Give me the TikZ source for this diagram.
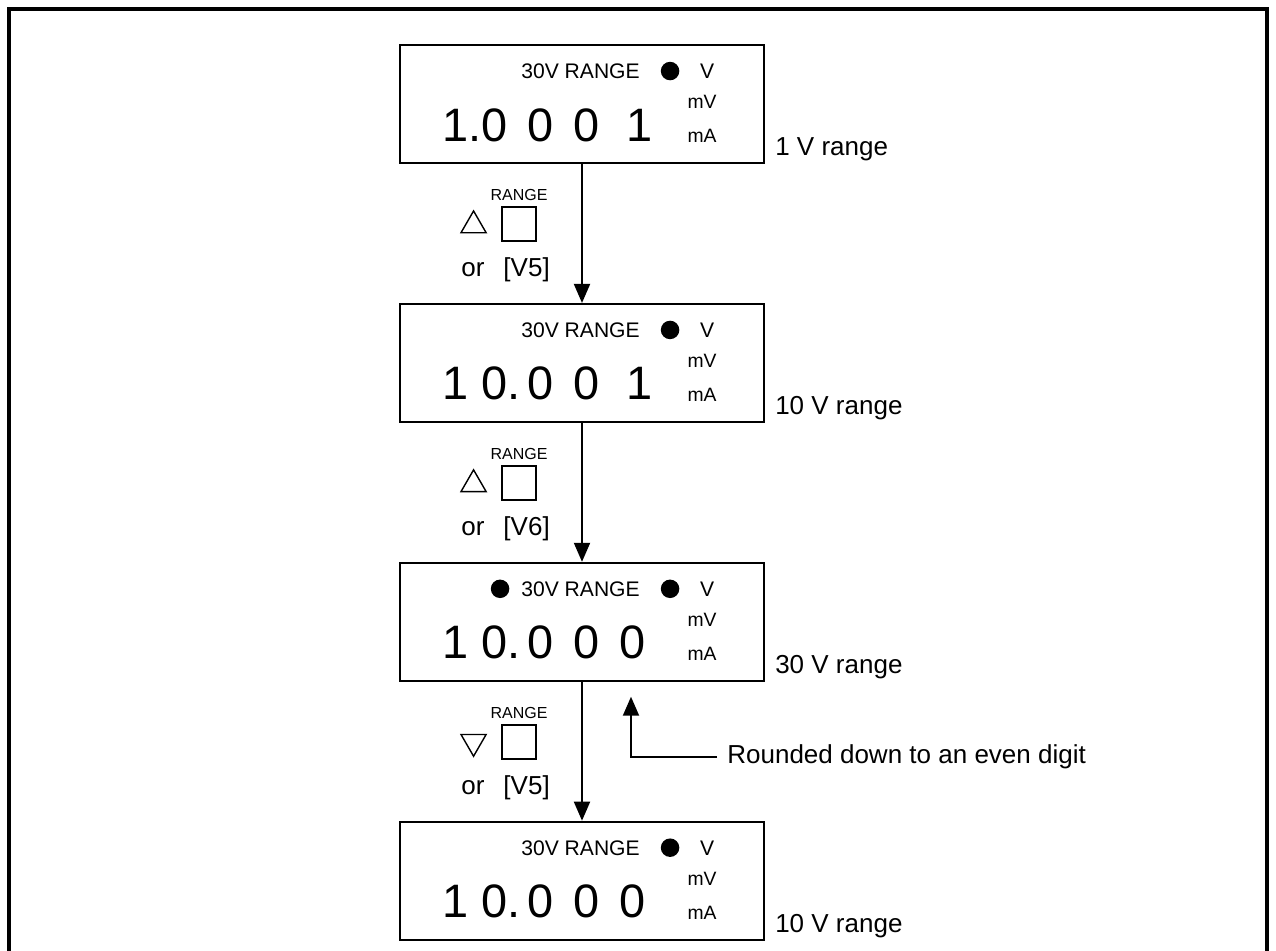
\documentclass[tikz,border=0pt]{standalone}
\usepackage{fontspec}
\setmainfont{Liberation Sans}
\usetikzlibrary{arrows.meta,positioning,calc,shapes.geometric}
\newcommand\dg[1]{\makebox[26.2pt][l]{#1}}
\newcommand\dgone[1]{\makebox[26.2pt][l]{\hspace{4pt}#1}}

\begin{document}
\begin{tikzpicture}[
  x=0.02cm, y=-0.02cm,
  panel/.style={draw, line width=1.1pt, minimum width=7.28cm, minimum height=2.36cm, inner sep=0},
  lamp/.style={circle, fill, inner sep=0, minimum size=0.37cm},
  rng/.style={inner sep=0, font=\fontsize{12}{14}\selectfont},
  unit/.style={inner sep=0, font=\fontsize{11}{13}\selectfont},
  val/.style={inner sep=0, font=\fontsize{26.7}{30}\selectfont},
  lbl/.style={inner sep=0, font=\fontsize{14.8}{17}\selectfont},
  key/.style={draw, line width=1pt, minimum size=0.68cm, inner sep=0},
  keytxt/.style={inner sep=0, font=\fontsize{9.1}{11}\selectfont},
  tri/.style={draw, regular polygon, regular polygon sides=3, minimum size=0.58cm, inner sep=0, line width=0.8pt},
  ar/.style={-{Triangle[length=3.8mm, width=3.2mm]}, line width=1.1pt}
]
\useasboundingbox (0,0) rectangle (1276,951);
\draw[line width=2.3pt] (9,951) -- (9,9) -- (1267,9) -- (1267,951);

% the four displays
\node[panel] (b1) at (582,104) {};
\node[panel, below=2.78cm of b1] (b2) {};
\node[panel, below=2.78cm of b2] (b3) {};
\node[panel, below=2.78cm of b3] (b4) {};

\foreach \b in {b1,b2,b3,b4}{
  \node[rng, anchor=base east] (\b-rng) at ($(\b.north west)+(241,34.5)$) {30V RANGE};
  \node[lamp] (\b-lamp) at ($(\b.north west)+(271,27)$) {};
  \node[rng, anchor=base] (\b-v) at ($(\b.north west)+(308,34.5)$) {V};
  \node[unit, anchor=base] (\b-mv) at ($(\b.north west)+(303,64.5)$) {mV};
  \node[unit, anchor=base] (\b-ma) at ($(\b.north west)+(303,98.5)$) {mA};
}
\node[lamp] (b3-lamp30) at ($(b3.north west)+(101,27)$) {};

\node[val, anchor=base west] (b1-val) at ($(b1.north west)+(36,97)$) {\dgone{1.}\dg{0}\dg{0}\dg{0}\dgone{1}};
\node[val, anchor=base west] (b2-val) at ($(b2.north west)+(36,97)$) {\dgone{1}\dg{0.}\dg{0}\dg{0}\dgone{1}};
\node[val, anchor=base west] (b3-val) at ($(b3.north west)+(36,97)$) {\dgone{1}\dg{0.}\dg{0}\dg{0}\dg{0}};
\node[val, anchor=base west] (b4-val) at ($(b4.north west)+(36,97)$) {\dgone{1}\dg{0.}\dg{0}\dg{0}\dg{0}};

\node[lbl, anchor=base west] (b1-lbl) at ($(b1.south east)+(10,-8)$) {1 V range};
\node[lbl, anchor=base west] (b2-lbl) at ($(b2.south east)+(10,-8)$) {10 V range};
\node[lbl, anchor=base west] (b3-lbl) at ($(b3.south east)+(10,-8)$) {30 V range};
\node[lbl, anchor=base west] (b4-lbl) at ($(b4.south east)+(10,-8)$) {10 V range};

% key presses
\node[key] (k1) at ($(b1.south west)+(120,60)$) {};
\node[keytxt, above=0.1cm of k1] (k1-lbl) {RANGE};
\node[tri] (k1-up) at ($(k1)+(-45.5,1.5)$) {};
\node[lbl, anchor=base west] (k1-or) at ($(k1)+(-58,53)$) {or\hspace{0.73em}[V5]};

\node[key] (k2) at ($(b2.south west)+(120,60)$) {};
\node[keytxt, above=0.1cm of k2] (k2-lbl) {RANGE};
\node[tri] (k2-up) at ($(k2)+(-45.5,1.5)$) {};
\node[lbl, anchor=base west] (k2-or) at ($(k2)+(-58,53)$) {or\hspace{0.73em}[V6]};

\node[key] (k3) at ($(b3.south west)+(120,60)$) {};
\node[keytxt, above=0.1cm of k3] (k3-lbl) {RANGE};
\node[tri, shape border rotate=180] (k3-dn) at ($(k3)+(-45.5,0)$) {};
\node[lbl, anchor=base west] (k3-or) at ($(k3)+(-58,53)$) {or\hspace{0.73em}[V5]};

\draw[ar] (b1) -- (b2);
\draw[ar] (b2) -- (b3);
\draw[ar] (b3) -- (b4);

% note on the 30 V reading
\coordinate (tip) at ($(b3.south)+(49,15)$);
\node[lbl, anchor=west, inner sep=0.2cm] (note) at ($(b3.south)+(135,75)$) {Rounded down to an even digit};
\draw[ar] (note.west) -| (tip);
\end{tikzpicture}
\end{document}
